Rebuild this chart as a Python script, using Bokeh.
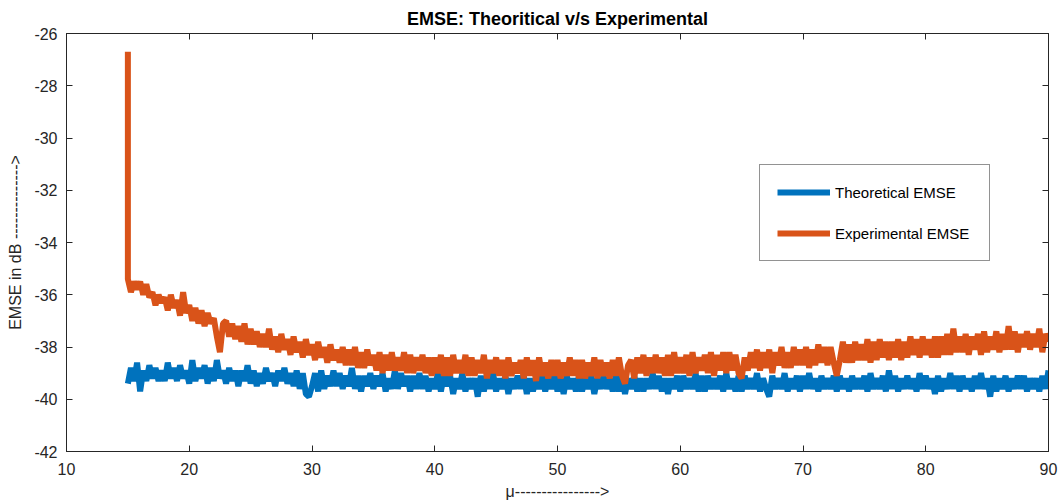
import numpy as np
from bokeh.plotting import figure
from bokeh.models import LinearAxis, Range1d, FixedTicker, Legend, LegendItem, PrintfTickFormatter
from bokeh.embed import file_html
from bokeh.resources import INLINE

# step size mu (x axis samples)
mu = np.round(np.arange(15, 90.001, 0.25), 2)

x_ticks = [10, 20, 30, 40, 50, 60, 70, 80, 90]
y_ticks = [-42, -40, -38, -36, -34, -32, -30, -28, -26]

theoretical_emse = [
    -39.4, -38.8, -39.3, -38.6,  # 15
    -39.7, -38.9, -39.3, -38.7,  # 16
    -39.2, -38.8, -39.3, -38.9,  # 17
    -39.3, -38.6, -39.2, -38.8,  # 18
    -39.3, -38.7, -39.2, -38.9,  # 19
    -39.4, -38.5, -39.3, -38.8,  # 20
    -39.2, -38.7, -39.4, -38.8,  # 21
    -39.3, -38.5, -39.2, -38.9,  # 22
    -39.4, -38.8, -39.3, -38.9,  # 23
    -39.5, -38.9, -39.3, -38.7,  # 24
    -39.4, -38.9, -39.5, -39.0,  # 25
    -39.4, -38.8, -39.3, -39.0,  # 26
    -39.5, -38.9, -39.3, -38.8,  # 27
    -39.4, -39.0, -39.5, -38.9,  # 28
    -39.6, -39.0, -39.8, -39.9,  # 29
    -39.5, -39.0, -39.7, -38.9,  # 30
    -39.6, -39.1, -39.5, -38.9,  # 31
    -39.5, -39.0, -39.6, -39.1,  # 32
    -39.5, -38.8, -39.6, -39.1,  # 33
    -39.7, -39.1, -39.5, -39.0,  # 34
    -39.6, -39.1, -39.5, -39.0,  # 35
    -39.7, -39.2, -39.6, -38.9,  # 36
    -39.6, -39.0, -39.5, -39.1,  # 37
    -39.7, -39.1, -39.6, -39.0,  # 38
    -39.6, -39.1, -39.7, -39.2,  # 39
    -39.6, -39.0, -39.7, -39.1,  # 40
    -39.5, -39.1, -39.8, -39.2,  # 41
    -39.6, -39.0, -39.7, -39.2,  # 42
    -39.6, -39.2, -39.9, -39.1,  # 43
    -39.7, -39.1, -39.6, -39.0,  # 44
    -39.7, -39.2, -39.6, -39.1,  # 45
    -39.8, -39.2, -39.6, -39.1,  # 46
    -39.6, -39.1, -39.8, -39.2,  # 47
    -39.7, -39.2, -39.6, -39.1,  # 48
    -39.7, -39.2, -39.6, -39.0,  # 49
    -39.7, -39.2, -39.8, -39.1,  # 50
    -39.6, -39.2, -39.7, -39.1,  # 51
    -39.7, -39.2, -39.6, -39.1,  # 52
    -39.8, -39.2, -39.6, -39.1,  # 53
    -39.6, -39.2, -39.7, -39.1,  # 54
    -39.7, -39.1, -39.8, -39.2,  # 55
    -39.6, -39.1, -39.7, -39.2,  # 56
    -39.7, -39.2, -39.6, -39.0,  # 57
    -39.6, -39.1, -39.7, -39.2,  # 58
    -39.8, -39.2, -39.6, -39.1,  # 59
    -39.7, -39.1, -39.6, -39.2,  # 60
    -39.6, -39.0, -39.7, -39.1,  # 61
    -39.7, -39.1, -39.6, -39.2,  # 62
    -39.6, -39.1, -39.7, -39.0,  # 63
    -39.6, -39.2, -39.7, -39.1,  # 64
    -39.7, -39.1, -39.6, -39.2,  # 65
    -39.6, -39.0, -39.7, -39.2,  # 66
    -39.6, -39.9, -39.1, -39.6,  # 67
    -39.2, -39.6, -39.0, -39.7,  # 68
    -39.2, -39.6, -39.1, -39.7,  # 69
    -39.1, -39.6, -39.0, -39.6,  # 70
    -39.2, -39.7, -39.1, -39.6,  # 71
    -39.2, -39.6, -39.1, -39.7,  # 72
    -39.1, -39.6, -39.2, -39.7,  # 73
    -39.1, -39.6, -39.2, -39.6,  # 74
    -39.1, -39.7, -39.0, -39.6,  # 75
    -39.2, -39.6, -39.1, -39.7,  # 76
    -38.9, -39.6, -39.1, -39.7,  # 77
    -39.2, -39.6, -39.1, -39.6,  # 78
    -39.2, -39.7, -39.0, -39.6,  # 79
    -39.1, -39.6, -39.2, -39.8,  # 80
    -39.1, -39.7, -39.2, -39.6,  # 81
    -39.0, -39.6, -39.1, -39.7,  # 82
    -39.1, -39.6, -39.2, -39.7,  # 83
    -39.1, -39.6, -39.0, -39.6,  # 84
    -39.2, -39.9, -39.1, -39.7,  # 85
    -39.2, -39.6, -39.1, -39.7,  # 86
    -39.2, -39.6, -39.1, -39.6,  # 87
    -39.1, -39.7, -39.2, -39.6,  # 88
    -39.2, -39.7, -39.1, -39.6,  # 89
    -38.9,                       # 90
]

experimental_start = -26.7

experimental_emse = [
    -35.4, -35.9, -35.5, -35.8,  # 15
    -35.5, -36.0, -35.6, -36.1,  # 16
    -35.9, -36.4, -36.0, -36.3,  # 17
    -36.1, -36.6, -36.0, -36.5,  # 18
    -36.2, -36.8, -35.9, -36.7,  # 19
    -36.4, -37.0, -36.5, -37.1,  # 20
    -36.6, -37.2, -36.7, -37.1,  # 21
    -36.9, -37.6, -38.2, -37.1,  # 22
    -37.0, -37.6, -37.1, -37.7,  # 23
    -37.2, -37.8, -37.1, -37.9,  # 24
    -37.3, -37.9, -37.4, -38.0,  # 25
    -37.5, -38.0, -37.3, -38.1,  # 26
    -37.6, -38.2, -37.5, -38.1,  # 27
    -37.7, -38.3, -37.6, -38.2,  # 28
    -37.8, -38.4, -37.7, -38.3,  # 29
    -37.9, -38.5, -37.8, -38.4,  # 30
    -38.0, -38.6, -37.9, -38.5,  # 31
    -38.1, -38.6, -38.0, -38.7,  # 32
    -38.1, -38.7, -38.0, -38.8,  # 33
    -38.2, -38.8, -38.1, -38.7,  # 34
    -38.3, -38.9, -38.2, -39.0,  # 35
    -38.3, -38.9, -38.2, -38.9,  # 36
    -38.4, -38.9, -38.2, -39.0,  # 37
    -38.3, -39.0, -38.4, -38.9,  # 38
    -38.3, -39.0, -38.4, -39.1,  # 39
    -38.4, -39.0, -38.3, -39.1,  # 40
    -38.4, -39.1, -38.3, -39.0,  # 41
    -38.5, -39.0, -38.3, -39.1,  # 42
    -38.4, -39.1, -38.5, -39.0,  # 43
    -38.3, -39.2, -38.5, -39.0,  # 44
    -38.4, -39.1, -38.5, -39.2,  # 45
    -38.4, -39.1, -38.6, -39.0,  # 46
    -38.5, -39.2, -38.4, -39.1,  # 47
    -38.5, -39.3, -38.4, -39.1,  # 48
    -38.6, -39.2, -38.5, -39.1,  # 49
    -38.5, -39.2, -38.6, -39.1,  # 50
    -38.4, -39.1, -38.5, -39.2,  # 51
    -38.5, -39.2, -38.6, -39.1,  # 52
    -38.4, -39.2, -38.5, -39.1,  # 53
    -38.6, -39.2, -38.5, -39.1,  # 54
    -38.4, -39.1, -39.4, -38.7,  # 55
    -38.5, -39.2, -38.4, -39.0,  # 56
    -38.3, -39.1, -38.4, -39.0,  # 57
    -38.3, -39.0, -38.4, -39.1,  # 58
    -38.3, -39.1, -38.2, -39.0,  # 59
    -38.4, -39.0, -38.3, -39.1,  # 60
    -38.2, -39.0, -38.4, -38.9,  # 61
    -38.3, -39.0, -38.2, -39.1,  # 62
    -38.3, -38.9, -38.2, -39.0,  # 63
    -38.2, -38.9, -38.3, -39.0,  # 64
    -39.2, -38.4, -38.9, -38.2,  # 65
    -38.8, -38.1, -38.9, -38.2,  # 66
    -38.8, -38.1, -39.0, -38.2,  # 67
    -38.7, -38.0, -38.8, -38.2,  # 68
    -38.8, -38.0, -38.7, -38.1,  # 69
    -38.7, -38.0, -38.8, -38.1,  # 70
    -38.7, -37.9, -38.6, -38.0,  # 71
    -38.7, -38.0, -38.6, -39.1,  # 72
    -38.5, -37.8, -38.6, -37.9,  # 73
    -38.6, -37.8, -38.5, -37.9,  # 74
    -38.5, -37.7, -38.6, -37.8,  # 75
    -38.5, -37.7, -38.4, -37.8,  # 76
    -38.5, -37.8, -38.4, -37.7,  # 77
    -38.5, -37.8, -38.4, -37.6,  # 78
    -38.3, -37.7, -38.4, -37.6,  # 79
    -38.3, -37.7, -38.4, -37.6,  # 80
    -38.4, -37.6, -38.3, -37.5,  # 81
    -38.3, -37.3, -38.2, -37.6,  # 82
    -38.2, -37.5, -38.3, -37.6,  # 83
    -38.1, -37.5, -38.3, -37.4,  # 84
    -38.2, -37.6, -38.1, -37.4,  # 85
    -38.2, -37.5, -38.1, -37.2,  # 86
    -38.1, -37.4, -38.2, -37.5,  # 87
    -38.0, -37.4, -38.1, -37.5,  # 88
    -38.0, -37.3, -38.2, -37.5,  # 89
    -37.8,                       # 90
]

assert len(theoretical_emse) == len(mu) == len(experimental_emse)

FONT = "Liberation Sans"
DARK = "#262626"
BLUE = "#0072BD"
ORANGE = "#D95319"

p = figure(
    width=1058, height=504,
    output_backend="svg", toolbar_location=None,
    x_range=Range1d(10, 90), y_range=Range1d(-42, -26),
    min_border_left=66, min_border_right=10,
    min_border_top=33, min_border_bottom=53,
    background_fill_color="white", border_fill_color="white",
)
p.grid.visible = False
p.outline_line_color = DARK

p.title.text = "EMSE: Theoritical v/s Experimental"
p.title.align = "center"
p.title.text_font = FONT
p.title.text_font_size = "18px"
p.title.text_font_style = "bold"
p.title.text_color = "black"
p.title.standoff = 9


def style_axis(ax, ticks, show_labels=True):
    ax.ticker = FixedTicker(ticks=ticks)
    ax.formatter = PrintfTickFormatter(format="%d")
    ax.major_tick_in = 6
    ax.major_tick_out = 0
    ax.minor_tick_line_color = None
    ax.axis_line_color = DARK
    ax.major_tick_line_color = DARK
    ax.major_label_text_font = FONT
    ax.major_label_text_color = DARK
    if show_labels:
        ax.major_label_text_font_size = "16px"
    else:
        ax.major_label_text_font_size = "0px"
        ax.major_label_standoff = 0


style_axis(p.xaxis[0], x_ticks)
style_axis(p.yaxis[0], y_ticks)
p.xaxis.major_label_standoff = 11
p.yaxis.major_label_standoff = 9
p.xaxis.axis_label = "\u03bc---------------->"
p.yaxis.axis_label = "EMSE in dB -------------->"
for ax in (p.xaxis[0], p.yaxis[0]):
    ax.axis_label_text_font = FONT
    ax.axis_label_text_font_size = "16px"
    ax.axis_label_text_font_style = "normal"
    ax.axis_label_text_color = DARK
p.xaxis.axis_label_standoff = 5
p.yaxis.axis_label_standoff = 7

top_axis = LinearAxis()
style_axis(top_axis, x_ticks, show_labels=False)
p.add_layout(top_axis, "above")
right_axis = LinearAxis()
style_axis(right_axis, y_ticks, show_labels=False)
p.add_layout(right_axis, "right")

r_theory = p.line(mu, theoretical_emse, line_color=BLUE, line_width=6)
exp_x = np.concatenate([[mu[0]], mu])
exp_y = np.concatenate([[experimental_start], experimental_emse])
r_exp = p.line(exp_x, exp_y, line_color=ORANGE, line_width=6)

legend = Legend(
    items=[
        LegendItem(label="Theoretical EMSE", renderers=[r_theory]),
        LegendItem(label="Experimental EMSE", renderers=[r_exp]),
    ],
    location=(693, 190),
    orientation="vertical",
    border_line_color=DARK,
    border_line_width=1,
    background_fill_color="white",
    background_fill_alpha=1,
    padding=17,
    spacing=21,
    margin=0,
    glyph_width=53,
    glyph_height=20,
    label_height=20,
    label_width=137,
    label_standoff=5,
    label_text_font=FONT,
    label_text_font_size="15px",
    label_text_color="black",
)
p.add_layout(legend)

open("out.html", "w").write(file_html(p, INLINE))
